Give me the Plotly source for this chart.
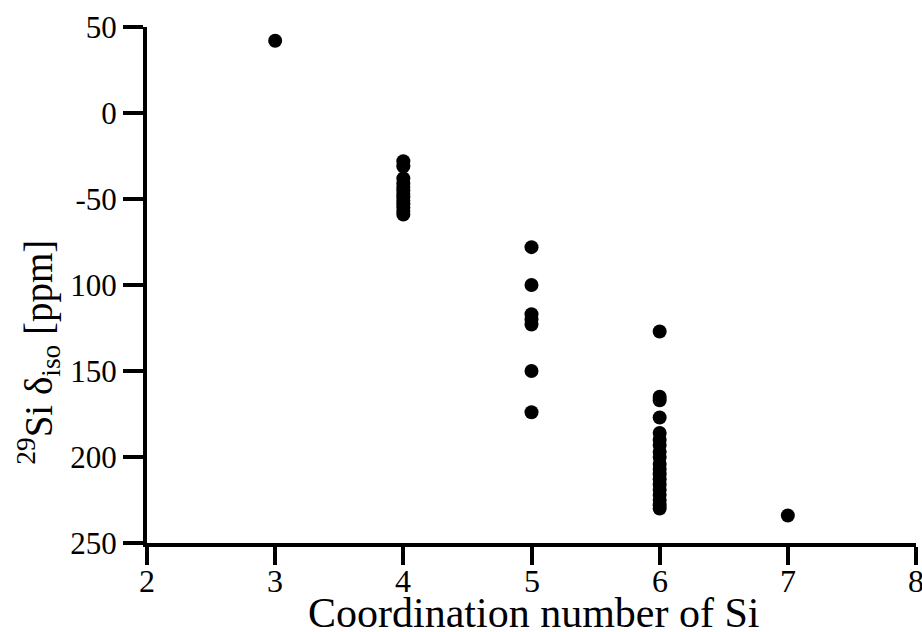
import plotly.graph_objects as go

# Data
coord_3 = [42]
coord_4 = [-28, -31, -38, -41, -43, -45, -47, -49, -51, -53, -55, -57, -59]
coord_5 = [-78, -100, -117, -120, -123, -150, -174]
coord_6 = [-127, -165, -167, -177, -186, -190, -193, -197, -200, -204, -207,
           -210, -213, -216, -219, -222, -225, -228, -230]
coord_7 = [-234]

groups = {3: coord_3, 4: coord_4, 5: coord_5, 6: coord_6, 7: coord_7}

x_ticks = [2, 3, 4, 5, 6, 7, 8]
x_ticktext = ["2", "3", "4", "5", "6", "7", "8"]
y_tickvals = [50, 0, -50, -100, -150, -200, -250]
y_ticktext = ["50", "0", "-50", "100", "150", "200", "250"]

xs, ys = [], []
for cn, vals in groups.items():
    xs += [cn] * len(vals)
    ys += vals

FONT = "Liberation Serif"

fig = go.Figure()
fig.add_trace(go.Scatter(
    x=xs, y=ys, mode="markers",
    marker=dict(size=14, color="black", line=dict(width=0)),
    cliponaxis=False, showlegend=False,
))

fig.update_layout(
    width=922, height=632,
    margin=dict(l=147, r=6, t=27, b=89, autoexpand=False),
    paper_bgcolor="white", plot_bgcolor="white",
    font=dict(family=FONT, color="black", size=28),
    xaxis=dict(
        range=[2, 8], tickmode="array", tickvals=x_ticks,
        showticklabels=False,
        showline=True, linecolor="black", linewidth=4,
        ticks="outside", ticklen=18, tickwidth=4, tickcolor="black",
        showgrid=False, zeroline=False, automargin=False,
    ),
    yaxis=dict(
        range=[-250, 50], tickmode="array", tickvals=y_tickvals, ticktext=y_ticktext,
        showline=True, linecolor="black", linewidth=4,
        ticks="outside", ticklen=20, tickwidth=4, tickcolor="black",
        showgrid=False, zeroline=False, automargin=False,
        tickfont=dict(family=FONT, size=31, color="black"),
    ),
)

# x tick labels placed at the axis tick values
for v, t in zip(x_ticks, x_ticktext):
    fig.add_annotation(
        text=t, xref="x", yref="paper", x=v, y=0, yshift=-38,
        xanchor="center", yanchor="middle", showarrow=False,
        font=dict(family=FONT, size=32, color="black"),
    )

# x axis title
fig.add_annotation(
    text="Coordination number of Si",
    xref="paper", yref="paper", x=0.503, y=0, yshift=-70,
    xanchor="center", yanchor="middle", showarrow=False,
    font=dict(family=FONT, size=42, color="black"),
)

# y axis title
fig.add_annotation(
    text="<sup>29</sup>Si δ<sub>iso</sub> [ppm]",
    xref="paper", yref="paper", x=-0.141, y=0.37,
    xanchor="center", yanchor="middle", textangle=-90, showarrow=False,
    font=dict(family=FONT, size=39, color="black"),
)

fig.write_html("out.html")
